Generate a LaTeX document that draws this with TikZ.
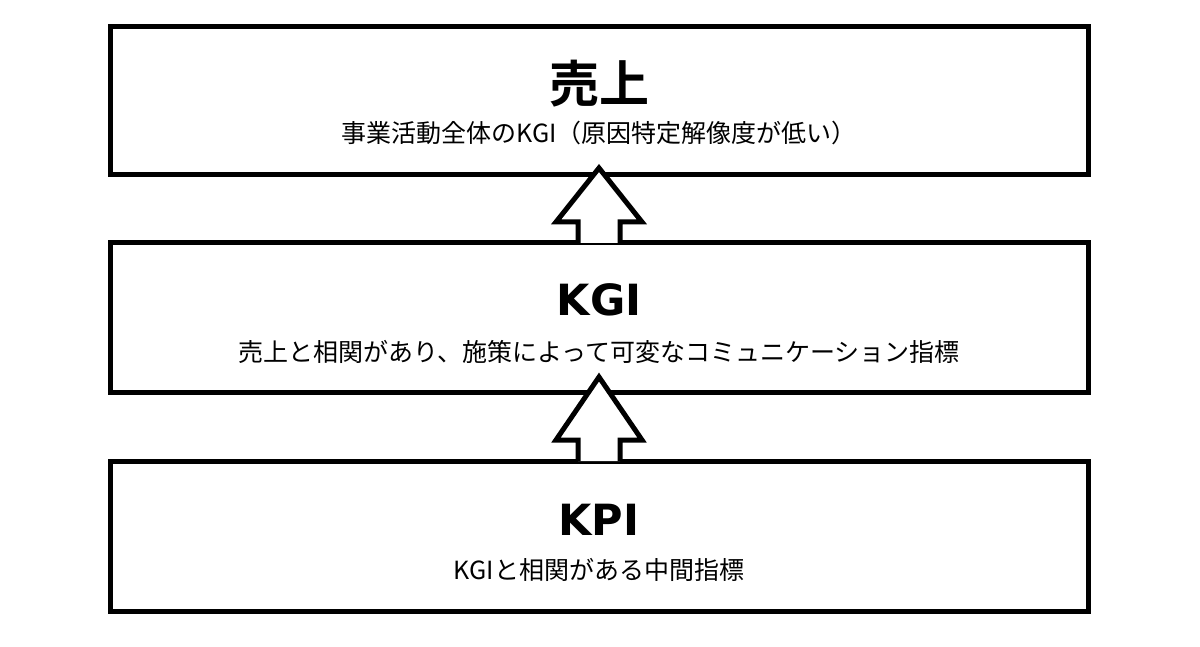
\documentclass[tikz,border=0pt]{standalone}
\usepackage{fontspec}
\newfontfamily\jp{Noto Sans CJK JP}
\newfontfamily\jpb{Noto Sans CJK JP Bold}
\newfontfamily\lb{DejaVu Sans Bold}
\begin{document}
\begin{tikzpicture}[x=1pt,y=-1pt,
  box/.style={draw=black,line width=5pt,fill=white},
  ttl/.style={font=\jpb\fontsize{50}{54}\selectfont},
  ttll/.style={font=\lb\fontsize{43}{48}\selectfont},
  sub/.style={font=\jp\fontsize{25}{28}\selectfont},
  blk/.style={draw=black,line width=5pt,fill=white,line join=miter}]
\useasboundingbox (0,0) rectangle (1200,647);
\draw[box] (110,27) rectangle (1088,175);
\draw[box] (110,243) rectangle (1088,392);
\draw[box] (110,461) rectangle (1088,611);
\draw[blk] (578,243) -- (578,222) -- (556,222) -- (599,168) -- (642,222) -- (620,222) -- (620,243);
\draw[blk] (578,461) -- (578,440) -- (556,440) -- (599,377) -- (642,440) -- (620,440) -- (620,461);
\node[ttl] (t1) at (599,84) {売上};
\node[sub] (s1) at (599,133) {事業活動全体のKGI（原因特定解像度が低い）};
\node[ttll] (t2) at (599,300) {KGI};
\node[sub] (s2) at (599,352) {売上と相関があり、施策によって可変なコミュニケーション指標};
\node[ttll] (t3) at (599,520) {KPI};
\node[sub] (s3) at (599,570) {KGIと相関がある中間指標};
\end{tikzpicture}
\end{document}
